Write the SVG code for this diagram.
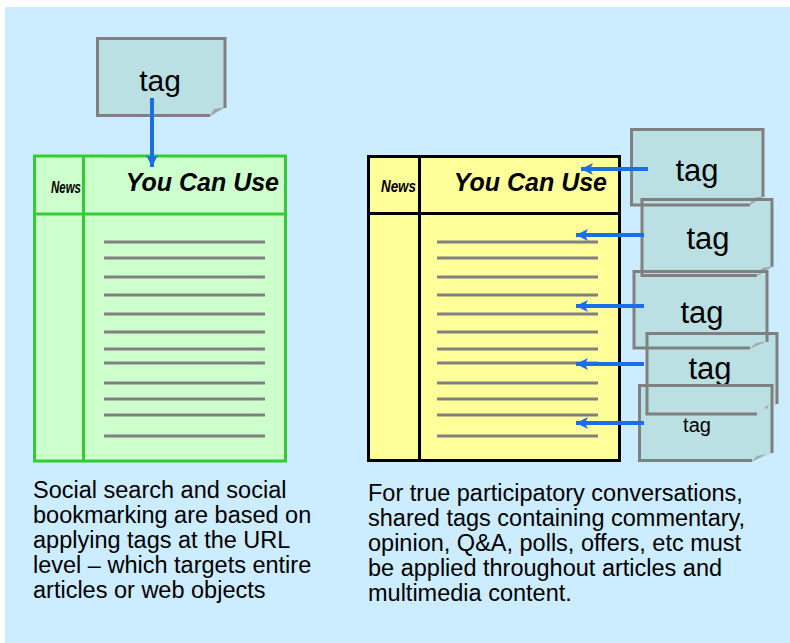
<svg xmlns="http://www.w3.org/2000/svg" width="790" height="643" viewBox="0 0 790 643">
  <style>
    .tag-fill { fill: #BBE0E3; }
    .tag-edge { fill: none; stroke: #808080; stroke-width: 3; stroke-linecap: butt; }
    .fold { fill: #9FAAAD; }
    .tag-label { font-family: "Liberation Sans", Arial, sans-serif; font-size: 31px; fill: #000; text-anchor: middle; }
    .rule { stroke: #808080; stroke-width: 3; }
    .hdr-news { font-family: "Liberation Sans", Arial, sans-serif; font-size: 16px; font-weight: bold; font-style: italic; }
    .hdr-title { font-family: "Liberation Sans", Arial, sans-serif; font-size: 25px; font-weight: bold; font-style: italic; text-anchor: end; }
    .caption { font-family: "Liberation Sans", Arial, sans-serif; font-size: 23.5px; fill: #000; }
    .link { stroke: #1A6EE6; stroke-width: 4; fill: none; }
  </style>
  <defs>
    <marker id="head" markerUnits="userSpaceOnUse" markerWidth="14" markerHeight="12" refX="12" refY="6" orient="auto">
      <path d="M0,0 L12,6 L0,12 L3,6 Z" fill="#1A6EE6"/>
    </marker>
    <!-- paper rule lines shared by both pages -->
    <g id="rules-green">
      <line x1="104" y1="242" x2="265" y2="242"/>
      <line x1="104" y1="258" x2="265" y2="258"/>
      <line x1="104" y1="277" x2="265" y2="277"/>
      <line x1="104" y1="295" x2="265" y2="295"/>
      <line x1="104" y1="314" x2="265" y2="314"/>
      <line x1="104" y1="332" x2="265" y2="332"/>
      <line x1="104" y1="349" x2="265" y2="349"/>
      <line x1="104" y1="363" x2="265" y2="363"/>
      <line x1="104" y1="383" x2="265" y2="383"/>
      <line x1="104" y1="399" x2="265" y2="399"/>
      <line x1="104" y1="415" x2="265" y2="415"/>
      <line x1="104" y1="436" x2="265" y2="436"/>
    </g>
  </defs>

  <!-- backdrop -->
  <rect x="5" y="7" width="785" height="636" fill="#CCECFF"/>

  <!-- left page: URL-level tagging -->
  <g id="page-url">
    <rect x="34.5" y="156" width="251" height="305" fill="#CCFFCC" stroke="#33CC33" stroke-width="3"/>
    <line x1="83.5" y1="156" x2="83.5" y2="461" stroke="#33CC33" stroke-width="3"/>
    <line x1="34.5" y1="214" x2="285.5" y2="214" stroke="#33CC33" stroke-width="3"/>
    <text class="hdr-news" x="51" y="193" textLength="30" lengthAdjust="spacingAndGlyphs">News</text>
    <text class="hdr-title" x="279" y="191">You Can Use</text>
    <use href="#rules-green" class="rule"/>
  </g>

  <!-- right page: in-content tagging -->
  <g id="page-content">
    <rect x="368.5" y="156.5" width="251" height="304" fill="#FFFF99" stroke="#000" stroke-width="3"/>
    <line x1="419.5" y1="156" x2="419.5" y2="461" stroke="#000" stroke-width="3"/>
    <line x1="368.5" y1="213.5" x2="619.5" y2="213.5" stroke="#000" stroke-width="3"/>
    <text class="hdr-news" x="381" y="192" textLength="35" lengthAdjust="spacingAndGlyphs" style="font-size:17px">News</text>
    <text class="hdr-title" x="607" y="191">You Can Use</text>
    <use href="#rules-green" class="rule" transform="translate(333,0)"/>
  </g>

  <!-- sticky-note paper of every tag, beneath all edges -->
  <g id="tag-paper" class="tag-fill">
    <path d="M96,37 H225 V108 L210,117 H96 Z"/>
    <path d="M630,128 H764 V197 L750,206 H630 Z"/>
    <path d="M641,198 H773 V267 L757,277 H641 Z"/>
    <path d="M633,270 H768 V342 L750,349 H633 Z"/>
    <path d="M646,332 H778 V404 L757,415 H646 Z"/>
    <path d="M638,384 H773 V453 L752,462 H638 Z"/>
  </g>

  <!-- tag nodes -->
  <g id="tag-url">
    <path class="tag-edge" d="M225,108 V38.5 H97.5 V115.5 H210"/>
    <path class="fold" d="M209,117 L225,107 L214,109 Z"/>
    <text class="tag-label" x="160" y="91" style="font-size:30px">tag</text>
  </g>
  <g id="tag-1">
    <path class="tag-edge" d="M763,197 V129.5 H631.5 V205 H750"/>
    <path class="fold" d="M749,206 L764,196 L753,198 Z"/>
    <text class="tag-label" x="697" y="181">tag</text>
  </g>
  <g id="tag-2">
    <path class="tag-edge" d="M772,267 V199.5 H642 V275.5 H757"/>
    <path class="fold" d="M756,277 L773,266 L762,268 Z"/>
    <text class="tag-label" x="708" y="249">tag</text>
  </g>
  <g id="tag-3">
    <path class="tag-edge" d="M767,342 V271.5 H634 V348 H750"/>
    <path class="fold" d="M749,349 L768,341 L756,343 Z"/>
    <text class="tag-label" x="702" y="323">tag</text>
  </g>
  <g id="tag-4">
    <path class="tag-edge" d="M777,404 V333.5 H647 V414 H757"/>
    <path class="fold" d="M764,408 L769,404 L767,409 Z"/>
    <text class="tag-label" x="710" y="379">tag</text>
  </g>
  <g id="tag-5">
    <path class="tag-edge" d="M772,453 V385.5 H639.5 V460.5 H752"/>
    <path class="fold" d="M751,462 L767,454 L757,456 Z"/>
    <text class="tag-label" x="697" y="432" style="font-size:20px">tag</text>
  </g>

  <!-- connectors -->
  <g id="connectors" class="link">
    <line x1="152" y1="98" x2="152" y2="167" marker-end="url(#head)"/>
    <line x1="648" y1="169" x2="581" y2="169" marker-end="url(#head)"/>
    <line x1="644" y1="235" x2="576" y2="235" marker-end="url(#head)"/>
    <line x1="644" y1="306" x2="576" y2="306" marker-end="url(#head)"/>
    <line x1="644" y1="364" x2="576" y2="364" marker-end="url(#head)"/>
    <line x1="644" y1="423" x2="576" y2="423" marker-end="url(#head)"/>
  </g>

  <!-- captions -->
  <g id="caption-url">
    <text class="caption" x="33" y="498">Social search and social</text>
    <text class="caption" x="33" y="523">bookmarking are based on</text>
    <text class="caption" x="33" y="548">applying tags at the URL</text>
    <text class="caption" x="33" y="573">level – which targets entire</text>
    <text class="caption" x="33" y="598">articles or web objects</text>
  </g>
  <g id="caption-content">
    <text class="caption" x="368" y="501">For true participatory conversations,</text>
    <text class="caption" x="368" y="526">shared tags containing commentary,</text>
    <text class="caption" x="368" y="551">opinion, Q&amp;A, polls, offers, etc must</text>
    <text class="caption" x="368" y="576">be applied throughout articles and</text>
    <text class="caption" x="368" y="601">multimedia content.</text>
  </g>
</svg>
